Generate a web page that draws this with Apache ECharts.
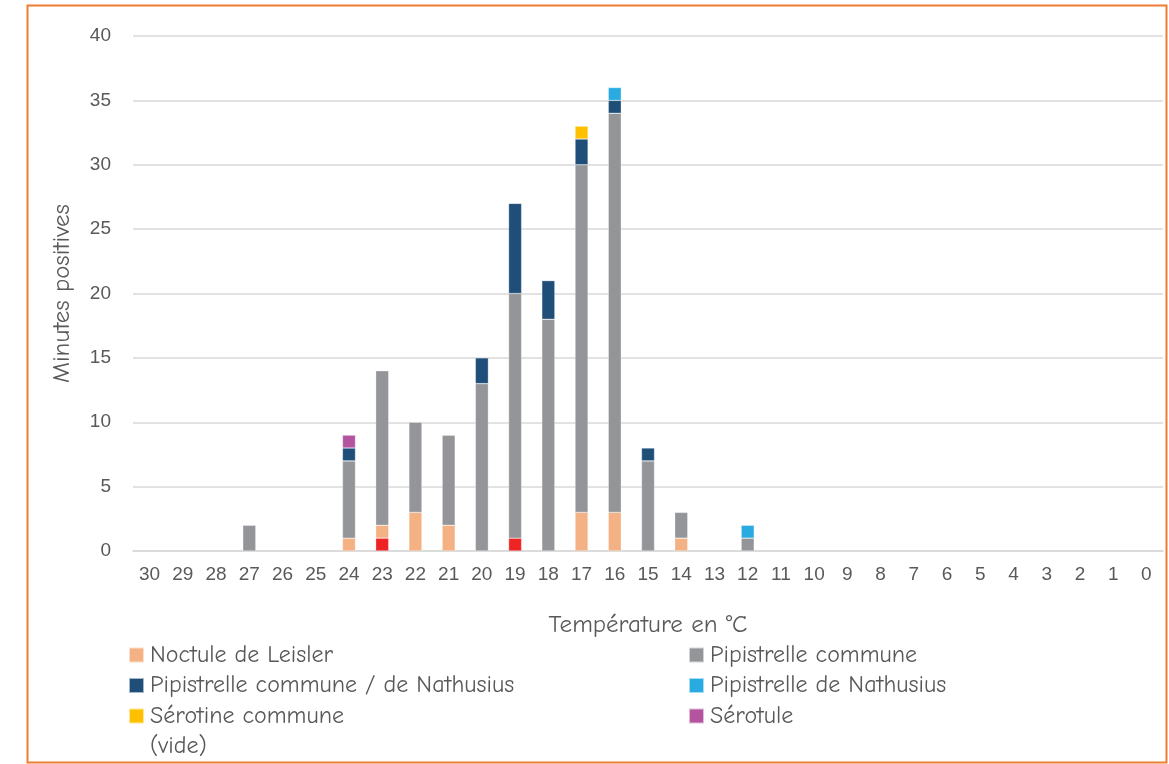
<!DOCTYPE html>
<html>
<head>
<meta charset="utf-8">
<script src="https://cdn.jsdelivr.net/npm/echarts@6/dist/echarts.min.js"></script>
<style>
  html, body { margin: 0; padding: 0; background: #fff; }
  #chart { width: 1169px; height: 764px; }
</style>
</head>
<body>
<div id="chart"></div>
<script>
// Température (°C), de 30 à 0
const temperatures = ['30','29','28','27','26','25','24','23','22','21','20','19','18','17','16','15','14','13','12','11','10','9','8','7','6','5','4','3','2','1','0'];

// Minutes positives par espèce, une valeur par température
const vide            = [0,0,0,0,0,0,0,1,0,0,0,1,0,0,0,0,0,0,0,0,0,0,0,0,0,0,0,0,0,0,0];
const noctuleLeisler  = [0,0,0,0,0,0,1,1,3,2,0,0,0,3,3,0,1,0,0,0,0,0,0,0,0,0,0,0,0,0,0];
const pipCommune      = [0,0,0,2,0,0,6,12,7,7,13,19,18,27,31,7,2,0,1,0,0,0,0,0,0,0,0,0,0,0,0];
const pipCommuneNath  = [0,0,0,0,0,0,1,0,0,0,2,7,3,2,1,1,0,0,0,0,0,0,0,0,0,0,0,0,0,0,0];
const pipNathusius    = [0,0,0,0,0,0,0,0,0,0,0,0,0,0,1,0,0,0,1,0,0,0,0,0,0,0,0,0,0,0,0];
const serotineCommune = [0,0,0,0,0,0,0,0,0,0,0,0,0,1,0,0,0,0,0,0,0,0,0,0,0,0,0,0,0,0,0];
const serotule        = [0,0,0,0,0,0,1,0,0,0,0,0,0,0,0,0,0,0,0,0,0,0,0,0,0,0,0,0,0,0,0];

const yTicks = { min: 0, max: 40, interval: 5 };

const comic = '"Comic Sans MS", "Comic Neue", "Noto Sans", sans-serif';
const tickFont = '"Liberation Sans", "DejaVu Sans", sans-serif';
const textGray = '#595959';

function bar(name, data, color) {
  return {
    name: name,
    type: 'bar',
    stack: 'total',
    barWidth: 13,
    data: data.map(v => (v === 0 ? null : v)),
    itemStyle: { color: color, borderColor: 'rgba(255,255,255,0.6)', borderWidth: 0.5 },
    emphasis: { disabled: true }
  };
}

const chart = echarts.init(document.getElementById('chart'), null, { renderer: 'canvas' });

const legendText = { fontFamily: comic, fontSize: 24, color: textGray, padding: [0, 0, 0, 1] };

const legendBase = {
  orient: 'vertical',
  top: 643,
  height: 120,
  padding: 0,
  itemWidth: 15,
  itemHeight: 15,
  itemGap: 6.5,
  icon: 'rect',
  textStyle: legendText,
  selectedMode: false
};

chart.setOption({
  animation: false,
  backgroundColor: '#ffffff',
  graphic: [{
    type: 'rect',
    shape: { x: 27.5, y: 5.5, width: 1139, height: 757 },
    style: { fill: 'none', stroke: '#ed7d31', lineWidth: 2 },
    silent: true
  }],
  grid: { left: 133, right: 6, top: 36, bottom: 213, containLabel: false },
  xAxis: {
    type: 'category',
    data: temperatures,
    name: 'Température en °C',
    nameLocation: 'middle',
    nameGap: 61,
    nameTextStyle: { fontFamily: comic, fontSize: 25, color: textGray },
    axisLine: { lineStyle: { color: '#d9d9d9', width: 1.5 } },
    axisTick: { show: false },
    axisLabel: { fontFamily: tickFont, fontSize: 19, color: textGray, margin: 14, interval: 0 }
  },
  yAxis: {
    type: 'value',
    min: yTicks.min,
    max: yTicks.max,
    interval: yTicks.interval,
    name: 'Minutes positives',
    nameLocation: 'middle',
    nameGap: 59,
    nameTextStyle: { fontFamily: comic, fontSize: 25, color: textGray },
    axisLine: { show: false },
    axisTick: { show: false },
    axisLabel: { fontFamily: tickFont, fontSize: 19, color: textGray, margin: 22 },
    splitLine: { lineStyle: { color: '#d9d9d9', width: 1.5 } }
  },
  legend: [
    Object.assign({}, legendBase, {
      left: 128,
      data: [
        'Noctule de Leisler',
        'Pipistrelle commune / de Nathusius',
        'Sérotine commune',
        { name: '(vide)', itemStyle: { opacity: 0 } }
      ]
    }),
    Object.assign({}, legendBase, {
      left: 688,
      data: ['Pipistrelle commune', 'Pipistrelle de Nathusius', 'Sérotule']
    })
  ],
  series: [
    bar('(vide)', vide, '#ee2324'),
    bar('Noctule de Leisler', noctuleLeisler, '#f4b183'),
    bar('Pipistrelle commune', pipCommune, '#939598'),
    bar('Pipistrelle commune / de Nathusius', pipCommuneNath, '#1f4e79'),
    bar('Pipistrelle de Nathusius', pipNathusius, '#29abe2'),
    bar('Sérotine commune', serotineCommune, '#ffc000'),
    bar('Sérotule', serotule, '#b4549f')
  ]
});
</script>
</body>
</html>
